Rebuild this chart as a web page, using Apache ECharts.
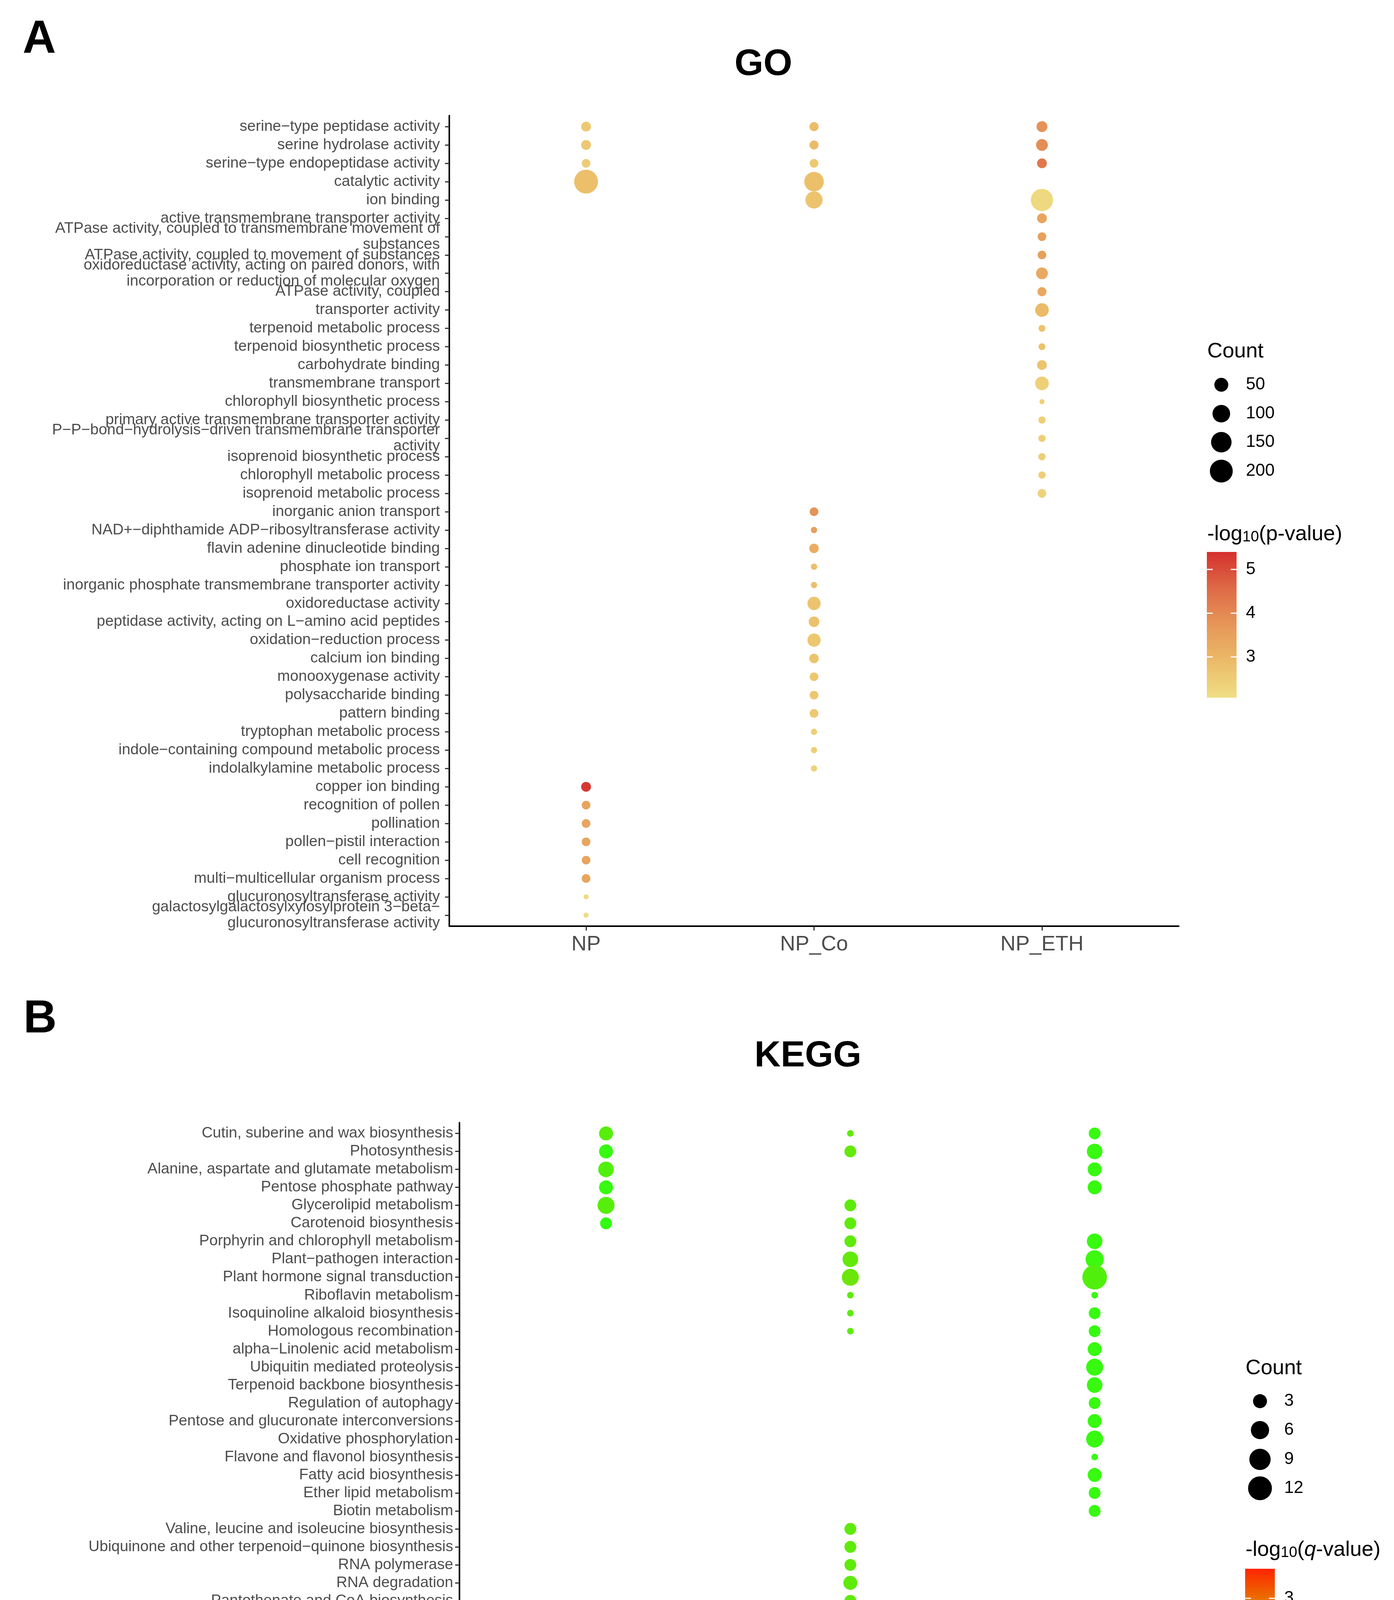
<!DOCTYPE html>
<html>
<head>
<meta charset="utf-8">
<script src="https://cdn.jsdelivr.net/npm/echarts@6/dist/echarts.min.js"></script>
<style>
  html, body { margin: 0; padding: 0; background: #fff; }
  #chart { width: 3568px; height: 5112px; }
</style>
</head>
<body>
<div id="chart"></div>
<script>
// ---- data -------------------------------------------------------------
const groups = ['NP', 'NP_Co', 'NP_ETH'];

const goTerms = [
  'serine−type peptidase activity',
  'serine hydrolase activity',
  'serine−type endopeptidase activity',
  'catalytic activity',
  'ion binding',
  'active transmembrane transporter activity',
  'ATPase activity, coupled to transmembrane movement of\nsubstances',
  'ATPase activity, coupled to movement of substances',
  'oxidoreductase activity, acting on paired donors, with\nincorporation or reduction of molecular oxygen',
  'ATPase activity, coupled',
  'transporter activity',
  'terpenoid metabolic process',
  'terpenoid biosynthetic process',
  'carbohydrate binding',
  'transmembrane transport',
  'chlorophyll biosynthetic process',
  'primary active transmembrane transporter activity',
  'P−P−bond−hydrolysis−driven transmembrane transporter\nactivity',
  'isoprenoid biosynthetic process',
  'chlorophyll metabolic process',
  'isoprenoid metabolic process',
  'inorganic anion transport',
  'NAD+−diphthamide ADP−ribosyltransferase activity',
  'flavin adenine dinucleotide binding',
  'phosphate ion transport',
  'inorganic phosphate transmembrane transporter activity',
  'oxidoreductase activity',
  'peptidase activity, acting on L−amino acid peptides',
  'oxidation−reduction process',
  'calcium ion binding',
  'monooxygenase activity',
  'polysaccharide binding',
  'pattern binding',
  'tryptophan metabolic process',
  'indole−containing compound metabolic process',
  'indolalkylamine metabolic process',
  'copper ion binding',
  'recognition of pollen',
  'pollination',
  'pollen−pistil interaction',
  'cell recognition',
  'multi−multicellular organism process',
  'glucuronosyltransferase activity',
  'galactosylgalactosylxylosylprotein 3−beta−\nglucuronosyltransferase activity'
];

// [term row, Count, -log10(p-value)]
const goNP = [
  [0, 15, 2.6], [1, 15, 2.6], [2, 9, 2.5], [3, 221, 2.8],
  [36, 15, 5.3], [37, 9, 3.4], [38, 9, 3.4], [39, 9, 3.4], [40, 9, 3.4], [41, 9, 3.4],
  [42, 1, 2.15], [43, 1, 2.15]
];
const goNPCo = [
  [0, 11, 2.85], [1, 11, 2.9], [2, 9, 2.6], [3, 132, 2.8], [4, 93, 2.7],
  [21, 9, 3.8], [22, 2, 3.5], [23, 13, 3.2], [24, 2, 2.8], [25, 2, 2.8],
  [26, 43, 2.7], [27, 20, 2.75], [28, 43, 2.65], [29, 13, 2.7], [30, 9, 2.65],
  [31, 9, 2.65], [32, 9, 2.6], [33, 2, 2.45], [34, 2, 2.45], [35, 2, 2.35]
];
const goNPETH = [
  [0, 22, 3.8], [1, 29, 3.9], [2, 15, 4.3], [4, 186, 2.2], [5, 15, 3.4],
  [6, 9, 3.5], [7, 9, 3.5], [8, 29, 3.3], [9, 11, 3.3], [10, 47, 2.9],
  [11, 3, 2.75], [12, 3, 2.75], [13, 15, 2.7], [14, 47, 2.4], [15, 1, 2.4],
  [16, 4, 2.45], [17, 4, 2.45], [18, 4, 2.45], [19, 4, 2.45], [20, 9, 2.35]
];

const keggTerms = [
  'Cutin, suberine and wax biosynthesis',
  'Photosynthesis',
  'Alanine, aspartate and glutamate metabolism',
  'Pentose phosphate pathway',
  'Glycerolipid metabolism',
  'Carotenoid biosynthesis',
  'Porphyrin and chlorophyll metabolism',
  'Plant−pathogen interaction',
  'Plant hormone signal transduction',
  'Riboflavin metabolism',
  'Isoquinoline alkaloid biosynthesis',
  'Homologous recombination',
  'alpha−Linolenic acid metabolism',
  'Ubiquitin mediated proteolysis',
  'Terpenoid backbone biosynthesis',
  'Regulation of autophagy',
  'Pentose and glucuronate interconversions',
  'Oxidative phosphorylation',
  'Flavone and flavonol biosynthesis',
  'Fatty acid biosynthesis',
  'Ether lipid metabolism',
  'Biotin metabolism',
  'Valine, leucine and isoleucine biosynthesis',
  'Ubiquinone and other terpenoid−quinone biosynthesis',
  'RNA polymerase',
  'RNA degradation',
  'Pantothenate and CoA biosynthesis',
  'Carbon fixation in photosynthetic organisms',
  'Basal transcription factors',
  'Pyrimidine metabolism',
  'C5−Branched dibasic acid metabolism',
  'Purine metabolism',
  'Ascorbate and aldarate metabolism',
  'Taurine and hypotaurine metabolism',
  'Nitrogen metabolism',
  'Linoleic acid metabolism',
  'Inositol phosphate metabolism',
  'Butanoate metabolism',
  'Base excision repair',
  'beta−Alanine metabolism',
  'Sulfur relay system',
  'SNARE interactions in vesicular transport',
  'Propanoate metabolism',
  'Monobactam biosynthesis',
  'Glycerophospholipid metabolism',
  'Cyanoamino acid metabolism'
];

// [term row, Count, -log10(q-value)]
const keggNP = [
  [0, 3, 0.4], [1, 3, 0.15], [2, 4, 0.35], [3, 3, 0.15], [4, 5, 0.4], [5, 2, 0.1],
  [32, 11, 3.72], [33, 2, 0.2], [34, 3, 0.25], [35, 3, 0.35], [36, 5, 0.4],
  [37, 3, 0.35], [38, 3, 0.3], [39, 3, 0.15], [40, 1, 0.2], [41, 2, 0.15],
  [42, 2, 0.15], [43, 1, 0.2], [44, 4, 0.3], [45, 3, 0.3]
];
const keggNPCo = [
  [0, 1, 0.45], [1, 2, 0.5], [4, 2, 0.45], [5, 2, 0.45], [6, 2, 0.45],
  [7, 4, 0.5], [8, 5, 0.55], [9, 1, 0.45], [10, 1, 0.45], [11, 1, 0.45],
  [22, 2, 0.45], [23, 2, 0.45], [24, 2, 0.45], [25, 3, 0.45], [26, 2, 0.45],
  [27, 3, 0.45], [28, 3, 0.45], [29, 3, 0.45], [30, 1, 0.45], [31, 3, 0.45]
];
const keggNPETH = [
  [0, 2, 0.15], [1, 4, 0.15], [2, 3, 0.15], [3, 3, 0.15], [6, 4, 0.15],
  [7, 6, 0.2], [8, 13, 0.35], [9, 1, 0.15], [10, 2, 0.15], [11, 2, 0.15],
  [12, 3, 0.15], [13, 5, 0.15], [14, 4, 0.15], [15, 2, 0.15], [16, 3, 0.15],
  [17, 5, 0.15], [18, 1, 0.15], [19, 3, 0.15], [20, 2, 0.15], [21, 2, 0.15]
];

const goSizeBreaks = [50, 100, 150, 200];
const keggSizeBreaks = [3, 6, 9, 12];
const goColorTicks = [5, 4, 3];
const keggColorTicks = [3, 2, 1];

// ---- scales / styles --------------------------------------------------
const FONT = '"Liberation Sans", Arial, Helvetica, sans-serif';
const goRange = [2.07, 5.4];
const keggRange = [0.06, 3.75];
const goColors = ['#F0DE84', '#EBBB68', '#E69658', '#DE6A46', '#D5302D'];
const keggColors = ['#2BFF12', '#A3D000', '#CCAA00', '#E58000', '#FF2400'];

// area-style size scale like ggplot scale_size
const goSize = c => 13 + 50 * Math.sqrt(Math.max(c - 1, 0) / 239);
const keggSize = c => 17 + 46 * Math.sqrt(Math.max(c - 1, 0) / 12);

const toPoints = (rows, g) => rows.map(r => [g, r[0], r[1], r[2]]);
const goData = [].concat(toPoints(goNP, 0), toPoints(goNPCo, 1), toPoints(goNPETH, 2));
const keggData = [].concat(toPoints(keggNP, 0), toPoints(keggNPCo, 1), toPoints(keggNPETH, 2));

function xAxisFor(gridIndex, margin) {
  return {
    type: 'value', gridIndex: gridIndex, min: -0.6, max: 2.6,
    axisLine: { show: true, onZero: false, lineStyle: { color: '#000', width: 4 } },
    axisTick: { show: true, length: 11, customValues: [0, 1, 2], lineStyle: { color: '#333', width: 3 } },
    axisLabel: {
      customValues: [0, 1, 2], formatter: v => groups[v],
      showMinLabel: true, showMaxLabel: true,
      fontSize: 54, color: '#4D4D4D', margin: margin, fontFamily: FONT
    },
    splitLine: { show: false }
  };
}

// rows: which term rows this axis labels (a second axis carries the
// last GO label so the overlap check does not drop its neighbour)
function yAxisFor(gridIndex, terms, margin, rows, withLine) {
  return {
    type: 'value', gridIndex: gridIndex, inverse: true, position: 'left',
    min: -0.6, max: terms.length - 0.4,
    axisLine: { show: withLine, onZero: false, lineStyle: { color: '#000', width: 4 } },
    axisTick: { show: true, length: 11, customValues: rows, lineStyle: { color: '#333', width: 3 } },
    axisLabel: {
      customValues: rows, formatter: v => terms[v],
      showMinLabel: true, showMaxLabel: true, hideOverlap: false,
      fontSize: 39, lineHeight: 41, color: '#4D4D4D', margin: margin, fontFamily: FONT
    },
    splitLine: { show: false }
  };
}

// legends drawn as graphics (ggplot style guides)
function legendGraphics(o) {
  const els = [];
  els.push({
    type: 'text', x: o.left, y: o.countY,
    style: { text: 'Count', fontSize: 54, fontFamily: FONT, fill: '#000', verticalAlign: 'middle' }
  });
  o.breaks.forEach((b, i) => {
    const y = o.dotY[i];
    els.push({ type: 'circle', shape: { cx: o.dotX, cy: y, r: o.sizeFn(b) / 2 }, style: { fill: '#000' } });
    els.push({
      type: 'text', x: o.labelX, y: y,
      style: { text: String(b), fontSize: 44, fontFamily: FONT, fill: '#000', verticalAlign: 'middle' }
    });
  });
  els.push({
    type: 'text', x: o.left, y: o.colorTitleY,
    style: {
      text: o.colorTitle, fontFamily: FONT, fill: '#000', verticalAlign: 'middle',
      rich: {
        a: { fontSize: 54, fontFamily: FONT, fill: '#000', verticalAlign: 'bottom' },
        b: { fontSize: 38, fontFamily: FONT, fill: '#000', verticalAlign: 'bottom' },
        i: { fontSize: 54, fontFamily: FONT, fill: '#000', fontStyle: 'italic', verticalAlign: 'bottom' }
      }
    }
  });
  const n = o.colors.length;
  const stops = o.colors.map((c, i) => ({ offset: 1 - i / (n - 1), color: c }));
  els.push({
    type: 'rect', shape: { x: o.barX, y: o.barTop, width: o.barW, height: o.barH },
    style: { fill: new echarts.graphic.LinearGradient(0, 0, 0, 1, stops) }
  });
  o.ticks.forEach(t => {
    const y = o.barTop + o.barH - (t - o.range[0]) / (o.range[1] - o.range[0]) * o.barH;
    els.push({ type: 'line', shape: { x1: o.barX, y1: y, x2: o.barX + 15, y2: y }, style: { stroke: '#fff', lineWidth: 3 } });
    els.push({ type: 'line', shape: { x1: o.barX + o.barW - 15, y1: y, x2: o.barX + o.barW, y2: y }, style: { stroke: '#fff', lineWidth: 3 } });
    els.push({
      type: 'text', x: o.labelX, y: y,
      style: { text: String(t), fontSize: 44, fontFamily: FONT, fill: '#000', verticalAlign: 'middle' }
    });
  });
  return els;
}

const headings = [
  { text: 'A', x: 58, y: 102, size: 118, align: 'left' },
  { text: 'GO', x: 1954, y: 166, size: 95, align: 'center' },
  { text: 'B', x: 60, y: 2610, size: 118, align: 'left' },
  { text: 'KEGG', x: 2068, y: 2704, size: 93, align: 'center' }
].map(h => ({
  type: 'text', x: h.x, y: h.y,
  style: {
    text: h.text, fontSize: h.size, fontWeight: 'bold', fontFamily: FONT, fill: '#000',
    align: h.align, verticalAlign: 'middle'
  }
}));

const graphics = headings
  .concat(legendGraphics({
    left: 3090, countY: 900, breaks: goSizeBreaks, dotX: 3126, dotY: [985, 1059, 1132, 1206],
    sizeFn: goSize, labelX: 3189, colorTitle: '{a|-log}{b|10}{a|(p-value)}', colorTitleY: 1368,
    colors: goColors, range: goRange, ticks: goColorTicks,
    barX: 3089, barTop: 1413, barW: 76, barH: 373
  }))
  .concat(legendGraphics({
    left: 3188, countY: 3503, breaks: keggSizeBreaks, dotX: 3225, dotY: [3587, 3661, 3736, 3810],
    sizeFn: keggSize, labelX: 3287, colorTitle: '{a|-log}{b|10}{a|(}{i|q}{a|-value)}', colorTitleY: 3968,
    colors: keggColors, range: keggRange, ticks: keggColorTicks,
    barX: 3187, barTop: 4016, barW: 76, barH: 373
  }));

const goRows = goTerms.map((_, i) => i);
const keggRows = keggTerms.map((_, i) => i);

// ---- chart ------------------------------------------------------------
const chart = echarts.init(document.getElementById('chart'), null, { renderer: 'canvas' });

chart.setOption({
  backgroundColor: '#fff',
  animation: false,
  textStyle: { fontFamily: FONT },
  grid: [
    { left: 1150, top: 296, width: 1867, height: 2075, containLabel: false, outerBoundsMode: 'none' },
    { left: 1176, top: 2874, width: 2001, height: 2126, containLabel: false, outerBoundsMode: 'none' }
  ],
  xAxis: [xAxisFor(0, 20), xAxisFor(1, 21)],
  yAxis: [
    yAxisFor(0, goTerms, 24, goRows.slice(0, -1), true),
    yAxisFor(0, goTerms, 24, goRows.slice(-1), false),
    yAxisFor(1, keggTerms, 16, keggRows, true)
  ],
  visualMap: [
    {
      type: 'continuous', show: false, seriesIndex: 0, dimension: 3,
      min: goRange[0], max: goRange[1], inRange: { color: goColors }
    },
    {
      type: 'continuous', show: false, seriesIndex: 1, dimension: 3,
      min: keggRange[0], max: keggRange[1], inRange: { color: keggColors }
    }
  ],
  series: [
    {
      name: 'GO', type: 'scatter', xAxisIndex: 0, yAxisIndex: 0,
      symbol: 'circle', symbolSize: v => goSize(v[2]),
      itemStyle: { opacity: 1 },
      data: goData
    },
    {
      name: 'KEGG', type: 'scatter', xAxisIndex: 1, yAxisIndex: 2,
      symbol: 'circle', symbolSize: v => keggSize(v[2]),
      itemStyle: { opacity: 1 },
      data: keggData
    }
  ],
  graphic: graphics
});
</script>
</body>
</html>
